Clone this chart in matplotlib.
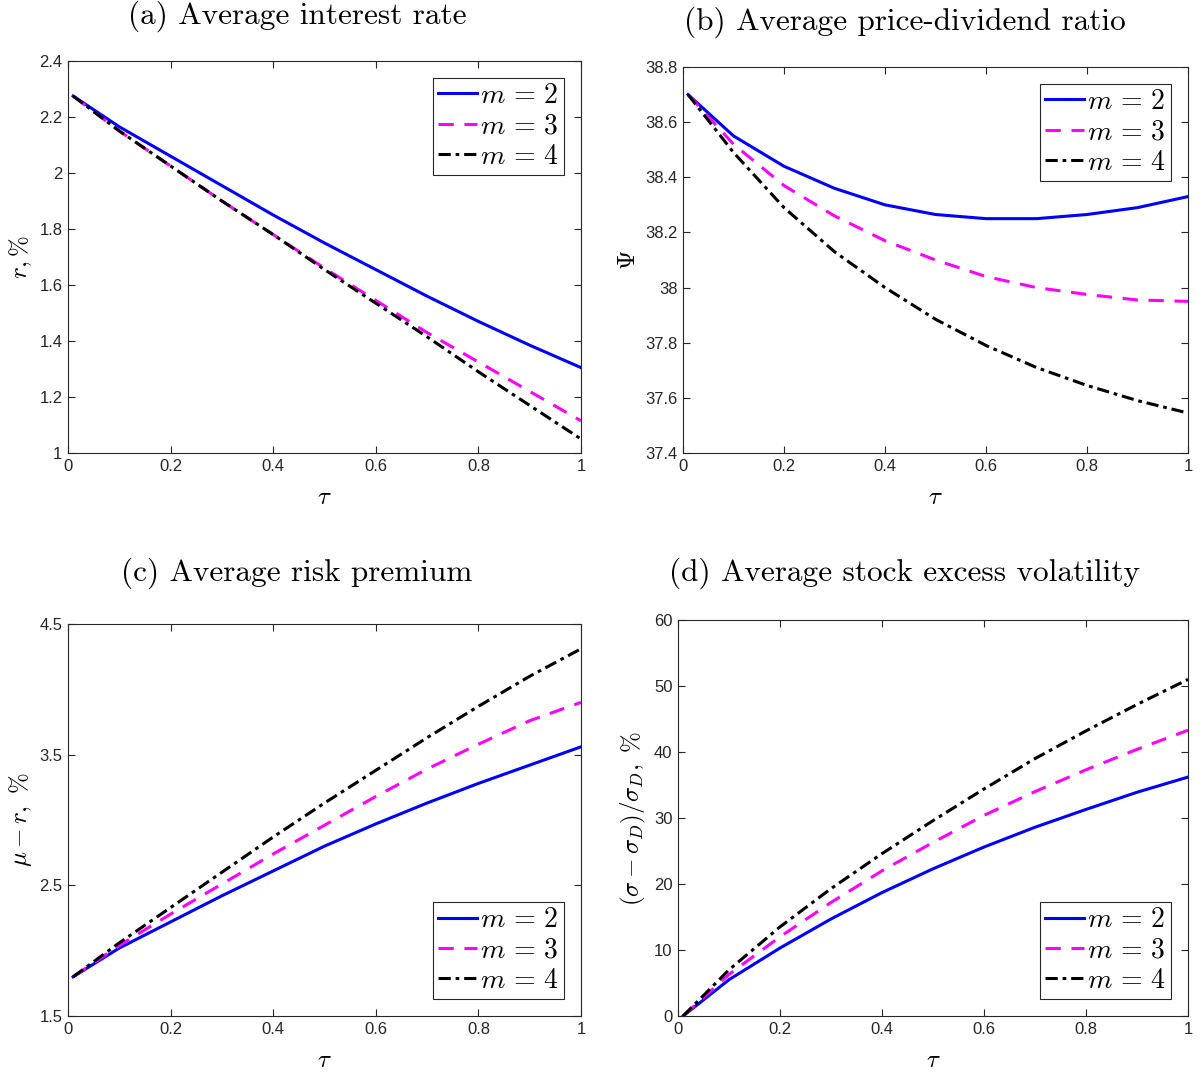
import matplotlib
matplotlib.use("Agg")
import matplotlib.pyplot as plt

plt.rcParams['mathtext.fontset'] = 'cm'
plt.rcParams['font.family'] = ['Liberation Sans', 'DejaVu Sans']

tau = [0.01, 0.1, 0.2, 0.3, 0.4, 0.5, 0.6, 0.7, 0.8, 0.9, 1.0]

# (a) average interest rate, %
rate_m2 = [2.275, 2.165, 2.06, 1.955, 1.85, 1.75, 1.655, 1.56, 1.47, 1.385, 1.305]
rate_m3 = [2.275, 2.15, 2.025, 1.90, 1.78, 1.66, 1.545, 1.43, 1.325, 1.22, 1.115]
rate_m4 = [2.275, 2.15, 2.025, 1.90, 1.78, 1.655, 1.535, 1.415, 1.29, 1.17, 1.05]

# (b) average price-dividend ratio
pd_m2 = [38.70, 38.55, 38.44, 38.36, 38.30, 38.265, 38.25, 38.25, 38.265, 38.29, 38.33]
pd_m3 = [38.70, 38.52, 38.37, 38.26, 38.17, 38.10, 38.04, 38.00, 37.975, 37.955, 37.95]
pd_m4 = [38.70, 38.49, 38.29, 38.13, 38.00, 37.885, 37.79, 37.71, 37.645, 37.59, 37.545]

# (c) average risk premium, %
rp_m2 = [1.80, 2.02, 2.22, 2.42, 2.61, 2.80, 2.97, 3.13, 3.28, 3.42, 3.56]
rp_m3 = [1.80, 2.04, 2.28, 2.51, 2.74, 2.96, 3.18, 3.39, 3.58, 3.76, 3.90]
rp_m4 = [1.80, 2.06, 2.33, 2.60, 2.87, 3.13, 3.38, 3.63, 3.87, 4.10, 4.31]

# (d) average stock excess volatility, %
vol_m2 = [0.0, 5.5, 10.3, 14.7, 18.7, 22.3, 25.6, 28.6, 31.3, 33.9, 36.2]
vol_m3 = [0.0, 6.3, 12.0, 17.2, 22.0, 26.3, 30.4, 34.0, 37.3, 40.4, 43.3]
vol_m4 = [0.0, 7.0, 13.5, 19.3, 24.6, 29.6, 34.4, 39.0, 43.2, 47.2, 51.0]

m_labels = [r'$m\,=\,2$', r'$m\,=\,3$', r'$m\,=\,4$']
x_ticks = [0, 0.2, 0.4, 0.6, 0.8, 1]
x_ticklabels = ['0', '0.2', '0.4', '0.6', '0.8', '1']

panels = [
    ("(a) Average interest rate", r"$r,\%$", [rate_m2, rate_m3, rate_m4],
     (1, 2.4), [1, 1.2, 1.4, 1.6, 1.8, 2, 2.2, 2.4],
     ['1', '1.2', '1.4', '1.6', '1.8', '2', '2.2', '2.4'], 'upper right'),
    ("(b) Average price-dividend ratio", r"$\Psi$", [pd_m2, pd_m3, pd_m4],
     (37.4, 38.8), [37.4, 37.6, 37.8, 38, 38.2, 38.4, 38.6, 38.8],
     ['37.4', '37.6', '37.8', '38', '38.2', '38.4', '38.6', '38.8'], 'upper right'),
    ("(c) Average risk premium", r"$\mu-r,\ \%$", [rp_m2, rp_m3, rp_m4],
     (1.5, 4.5), [1.5, 2.5, 3.5, 4.5], ['1.5', '2.5', '3.5', '4.5'], 'lower right'),
    ("(d) Average stock excess volatility", r"$(\sigma-\sigma_D)/\sigma_D,\ \%$",
     [vol_m2, vol_m3, vol_m4],
     (0, 60), [0, 10, 20, 30, 40, 50, 60], ['0', '10', '20', '30', '40', '50', '60'],
     'lower right'),
]

# axes boxes in pixels: left, right, top, bottom
W, H = 1203, 1077
boxes = [(68, 581, 61, 453), (683, 1188, 67, 453),
         (68, 581, 624, 1016), (678, 1188, 620, 1016)]
# title centre (axes fraction) and padding
title_x = [0.446, 0.44, 0.446, 0.444]
title_pad = [27, 27, 31, 28]

styles = [dict(color='#0000ff', linestyle='-'),
          dict(color='#ff00ff', linestyle=(0, (5, 3.5))),
          dict(color='black', linestyle=(0, (4, 1.6, 1.2, 1.6)))]

fig = plt.figure(figsize=(W / 100, H / 100), dpi=100)

for i, ((title, ylabel, series, ylim, yticks, yticklabels, loc), (l, r, t, b)) in enumerate(zip(panels, boxes)):
    ax = fig.add_axes([l / W, 1 - b / H, (r - l) / W, (b - t) / H])
    for values, st, lab in zip(series, styles, m_labels):
        ax.plot(tau, values, linewidth=2.2, label=lab, **st)
    ax.set_xlim(0, 1)
    ax.set_ylim(*ylim)
    ax.set_xticks(x_ticks)
    ax.set_xticklabels(x_ticklabels)
    ax.set_yticks(yticks)
    ax.set_yticklabels(yticklabels)
    ax.tick_params(direction='in', top=True, right=True, length=5, width=0.8,
                   labelsize=12, colors='#262626', pad=4)
    for s in ax.spines.values():
        s.set_color('#262626')
        s.set_linewidth(0.8)
    ax.set_xlabel(r'$\tau$', fontsize=18, labelpad=8)
    ax.set_ylabel(ylabel, fontsize=18, labelpad=4)
    ax.set_title(title, fontsize=22.5, family='cmr10', pad=title_pad[i], x=title_x[i])
    leg = ax.legend(loc=loc, fontsize=20, fancybox=False, framealpha=1,
                    edgecolor='#262626', handlelength=1.4, handletextpad=0.1,
                    borderpad=0.2, labelspacing=0.15, borderaxespad=0.6)
    leg.get_frame().set_linewidth(0.8)

fig.savefig('out.png', dpi=100)
